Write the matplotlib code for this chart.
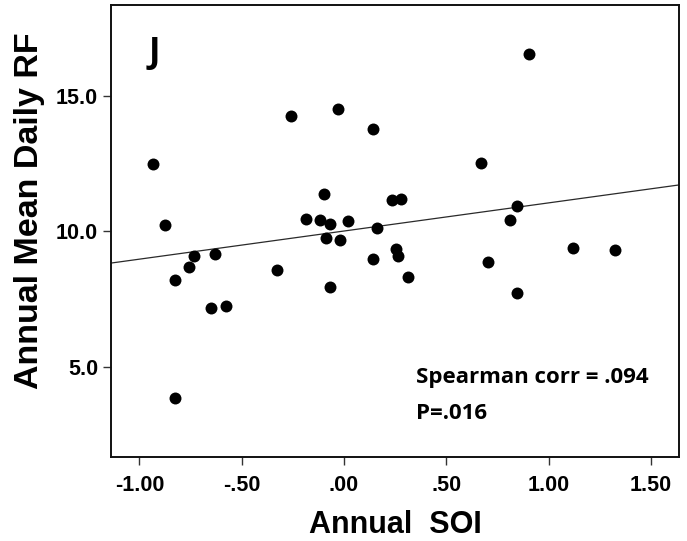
import numpy as np
import matplotlib.pyplot as plt

# annual SOI vs annual mean daily rainfall
soi = [-0.933, -0.875, -0.825, -0.825, -0.759, -0.734, -0.652, -0.632, -0.575,
       -0.326, -0.261, -0.186, -0.118, -0.096, -0.087, -0.067, -0.067, -0.028,
       -0.019, 0.021, 0.140, 0.140, 0.162, 0.236, 0.253, 0.264, 0.280, 0.313,
       0.670, 0.704, 0.812, 0.845, 0.845, 0.904, 1.119, 1.326]
rf = [12.47, 10.22, 8.19, 3.86, 8.69, 9.09, 7.15, 9.14, 7.25,
      8.55, 14.24, 10.44, 10.42, 11.36, 9.73, 10.27, 7.94, 14.51,
      9.67, 10.39, 13.76, 8.96, 10.10, 11.14, 9.34, 9.10, 11.20, 8.29,
      12.51, 8.86, 10.41, 10.92, 7.73, 16.54, 9.39, 9.32]

x_ticks = [-1.0, -0.5, 0.0, 0.5, 1.0, 1.5]
x_ticklabels = ['-1.00', '-.50', '.00', '.50', '1.00', '1.50']
y_ticks = [5.0, 10.0, 15.0]
y_ticklabels = ['5.0', '10.0', '15.0']

panel = 'J'
stats_lines = ['Spearman corr = .094', 'P=.016']

fig = plt.figure(figsize=(6.87, 5.41), dpi=100)
ax = fig.add_axes([0.162, 0.155, 0.827, 0.836])

xlim = (-1.137, 1.640)
ylim = (1.66, 18.35)

# least squares fit line across the full x range
k, b = np.polyfit(soi, rf, 1)
xx = np.array(xlim)
ax.plot(xx, k * xx + b, color='#2a2a2a', lw=0.9, zorder=2)

ax.plot(soi, rf, 'o', color='black', ms=8.6, mew=0, zorder=3)

ax.set_xlim(*xlim)
ax.set_ylim(*ylim)
ax.set_xticks(x_ticks)
ax.set_xticklabels(x_ticklabels)
ax.set_yticks(y_ticks)
ax.set_yticklabels(y_ticklabels)

for s in ax.spines.values():
    s.set_linewidth(1.4)
    s.set_color('#111111')
ax.tick_params(length=5.5, width=1.0, color='#333333')
ax.tick_params(axis='x', pad=7.5)
ax.tick_params(axis='y', pad=4)
for lab in ax.get_xticklabels() + ax.get_yticklabels():
    lab.set_fontfamily('Liberation Sans')
    lab.set_fontweight('bold')
    lab.set_fontsize(15.5)

ax.set_xlabel('Annual  SOI', fontfamily='Liberation Sans', fontweight='bold',
              fontsize=22, labelpad=10)
ax.set_ylabel('Annual Mean Daily RF', fontfamily='Liberation Sans', fontweight='bold',
              fontsize=24.5)
ax.yaxis.set_label_coords(-0.117, 0.546)

ax.text(0.066, 0.892, panel, transform=ax.transAxes, fontfamily='Open Sans',
        fontweight='bold', fontsize=25, va='center', ha='left')
for line, yf in zip(stats_lines, [0.175, 0.097]):
    ax.text(0.537, yf, line, transform=ax.transAxes, fontfamily='Open Sans',
            fontweight='bold', fontsize=16, va='center', ha='left')

fig.savefig('out.png', dpi=100)
